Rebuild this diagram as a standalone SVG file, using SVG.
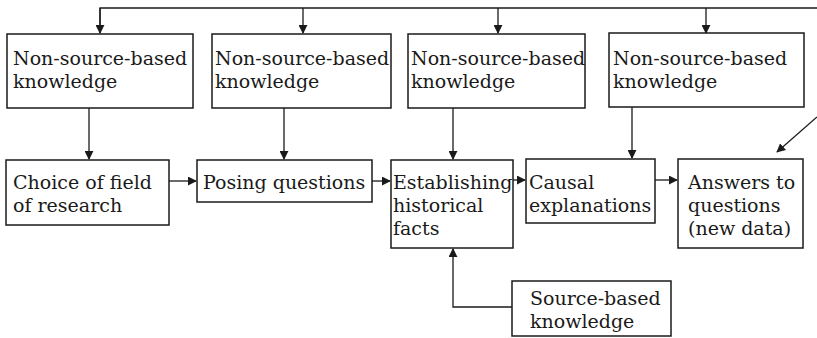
<svg xmlns="http://www.w3.org/2000/svg" width="817" height="338" viewBox="0 0 817 338">
  <style>
    .box { fill: #ffffff; stroke: #1a1a1a; stroke-width: 1.5; }
    .lbl { font-family: "DejaVu Serif", "Liberation Serif", serif; font-size: 19px; fill: #1a1a1a; }
    .wire { fill: none; stroke: #1a1a1a; stroke-width: 1.3; }
  </style>
  <defs>
    <marker id="arrow" viewBox="0 0 10 10" refX="9" refY="5" markerWidth="9" markerHeight="9" markerUnits="userSpaceOnUse" orient="auto">
      <path d="M0,0 L10,5 L0,10 z" fill="#1a1a1a"/>
    </marker>
  </defs>
  <rect width="817" height="338" fill="#ffffff"/>

  <g id="connectors">
    <!-- feedback bus along the top -->
    <path class="wire" d="M100,33 V8 H817"/>
    <path class="wire" d="M303,8 V33" marker-end="url(#arrow)"/>
    <path class="wire" d="M100,8 V33" marker-end="url(#arrow)"/>
    <path class="wire" d="M498,8 V33" marker-end="url(#arrow)"/>
    <path class="wire" d="M706,8 V33" marker-end="url(#arrow)"/>
    <path class="wire" d="M817,117 L777,152" marker-end="url(#arrow)"/>
    <!-- knowledge into each step -->
    <path class="wire" d="M89,108 V159" marker-end="url(#arrow)"/>
    <path class="wire" d="M284,108 V159" marker-end="url(#arrow)"/>
    <path class="wire" d="M453,108 V159" marker-end="url(#arrow)"/>
    <path class="wire" d="M632,107 V158" marker-end="url(#arrow)"/>
    <!-- main sequence -->
    <path class="wire" d="M169,181 H196" marker-end="url(#arrow)"/>
    <path class="wire" d="M372,181 H390" marker-end="url(#arrow)"/>
    <path class="wire" d="M513,180 H525" marker-end="url(#arrow)"/>
    <path class="wire" d="M655,180 H677" marker-end="url(#arrow)"/>
    <!-- source-based knowledge -->
    <path class="wire" d="M512,307 H453 V249" marker-end="url(#arrow)"/>
  </g>

  <g id="nsk1">
    <rect class="box" x="7" y="34" width="186" height="74"/>
    <text class="lbl" x="13" y="65">Non-source-based</text>
    <text class="lbl" x="13" y="88">knowledge</text>
  </g>
  <g id="nsk2">
    <rect class="box" x="212" y="34" width="179" height="74"/>
    <text class="lbl" x="215" y="65">Non-source-based</text>
    <text class="lbl" x="215" y="88">knowledge</text>
  </g>
  <g id="nsk3">
    <rect class="box" x="408" y="34" width="177" height="74"/>
    <text class="lbl" x="411" y="65">Non-source-based</text>
    <text class="lbl" x="411" y="88">knowledge</text>
  </g>
  <g id="nsk4">
    <rect class="box" x="609" y="33" width="195" height="74"/>
    <text class="lbl" x="613" y="65">Non-source-based</text>
    <text class="lbl" x="613" y="88">knowledge</text>
  </g>

  <g id="field">
    <rect class="box" x="6" y="160" width="163" height="65"/>
    <text class="lbl" x="13" y="189">Choice of field</text>
    <text class="lbl" x="13" y="212">of research</text>
  </g>
  <g id="questions">
    <rect class="box" x="197" y="160" width="175" height="42"/>
    <text class="lbl" x="203" y="189">Posing questions</text>
  </g>
  <g id="facts">
    <rect class="box" x="391" y="160" width="122" height="88"/>
    <text class="lbl" x="393" y="189">Establishing</text>
    <text class="lbl" x="393" y="212">historical</text>
    <text class="lbl" x="393" y="235">facts</text>
  </g>
  <g id="causal">
    <rect class="box" x="526" y="159" width="129" height="64"/>
    <text class="lbl" x="529" y="189">Causal</text>
    <text class="lbl" x="529" y="212">explanations</text>
  </g>
  <g id="answers">
    <rect class="box" x="678" y="159" width="125" height="89"/>
    <text class="lbl" x="688" y="189">Answers to</text>
    <text class="lbl" x="688" y="212">questions</text>
    <text class="lbl" x="688" y="235">(new data)</text>
  </g>
  <g id="sources">
    <rect class="box" x="512" y="281" width="159" height="55"/>
    <text class="lbl" x="530" y="305">Source-based</text>
    <text class="lbl" x="530" y="328">knowledge</text>
  </g>
</svg>
